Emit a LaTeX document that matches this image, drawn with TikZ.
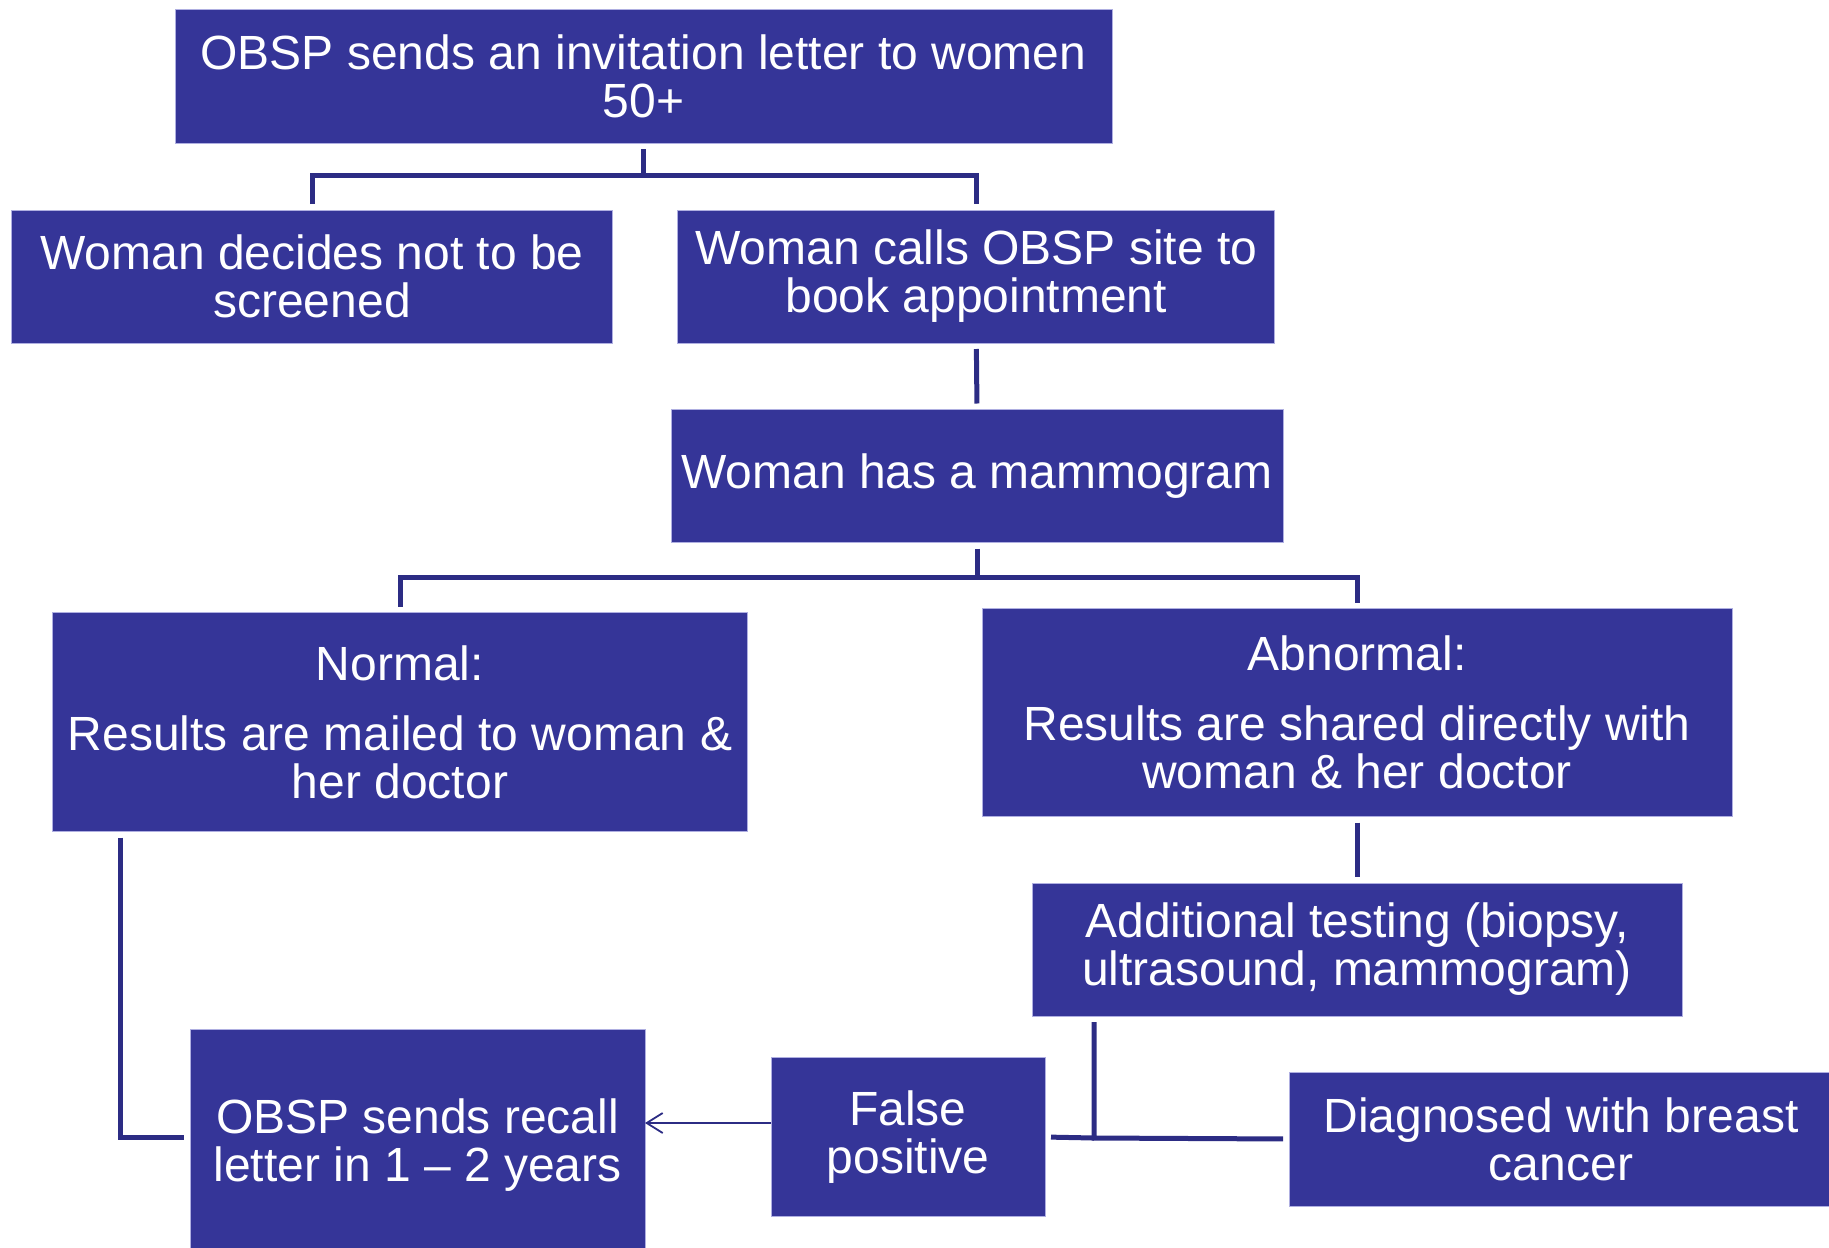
\documentclass[tikz,border=0pt]{standalone}
\usepackage{fontspec}
\setmainfont{Liberation Sans}
\usetikzlibrary{arrows.meta,calc}
\definecolor{boxc}{RGB}{53,53,152}
\definecolor{edgec}{RGB}{175,175,225}
\definecolor{linec}{RGB}{44,44,132}
\begin{document}
\begin{tikzpicture}[x=0.5pt,y=-0.5pt,
  box/.style={fill=boxc, draw=edgec, line width=0.5pt, text=white, align=center,
    inner sep=0pt, outer sep=0pt, font=\fontsize{24}{24}\selectfont},
  conn/.style={draw=linec, line width=2.5pt, shorten <=3pt, shorten >=3pt},
  arr/.style={draw=linec, line width=0.9pt, -{Straight Barb[length=8pt,width=10pt]}}]
\useasboundingbox (0,0) rectangle (1829,1247);

\node[box, minimum width=468.5pt, minimum height=67pt] (top) at (643.5,76.4)
  {OBSP sends an invitation letter to women\\50+};
\node[box, minimum width=300.5pt, minimum height=66.5pt] (dec) at (312,276.5)
  {Woman decides not to be\\screened};
\node[box, minimum width=298.5pt, minimum height=66.5pt] (calls) at (976.3,276.5)
  {Woman calls OBSP site to\\book appointment};
\node[box, minimum width=306pt, minimum height=66.5pt] (mammo) at (977,476)
  {Woman has a mammogram};
\node[box, minimum width=347.5pt, minimum height=109.5pt] (normal) at (400,722)
  {Normal:\\[11pt]Results are mailed to woman \&\\her doctor};
\node[box, minimum width=375pt, minimum height=103.8pt] (abn) at (1357,712.7)
  {Abnormal:\\[11pt]Results are shared directly with\\woman \& her doctor};
\node[box, minimum width=325pt, minimum height=66.5pt] (add) at (1357,949.5)
  {Additional testing (biopsy,\\ultrasound, mammogram)};
\node[box, minimum width=272pt, minimum height=67pt] (diag) at (1561,1139)
  {Diagnosed with breast\\cancer};
\node[box, minimum width=137pt, minimum height=79.5pt] (fp) at (908,1137)
  {False\\positive};
\node[box, minimum width=227.5pt, minimum height=116pt] (recall) at (417.5,1145)
  {OBSP sends recall\\letter in 1 – 2 years};

% top tree
\draw[conn] (dec.north) |- (top.south |- 0,175) -| (calls.north);
\draw[conn, shorten >=0pt] (top.south) -- (top.south |- 0,175);
% calls to mammogram
\draw[conn] (calls.south) -- (mammo.north);
% mammogram tree
\draw[conn] (normal.north) |- (mammo.south |- 0,577) -| (abn.north);
\draw[conn, shorten >=0pt] (mammo.south) -- (mammo.south |- 0,577);
% abnormal to additional
\draw[conn] (abn.south) -- (add.north);
% normal to recall
\draw[conn] (normal.south -| 120,0) |- (recall.west |- fp.west);
% additional to outcomes
\coordinate (j) at (1094,1138);
\draw[conn] (add.south -| j) -- (j) -- (diag.west);
\draw[conn, shorten <=0pt] (j) -- (fp.east);
% false positive to recall
\draw[arr] ([yshift=7pt]fp.west) -- ([yshift=7pt]fp.west -| recall.east);
\end{tikzpicture}
\end{document}
